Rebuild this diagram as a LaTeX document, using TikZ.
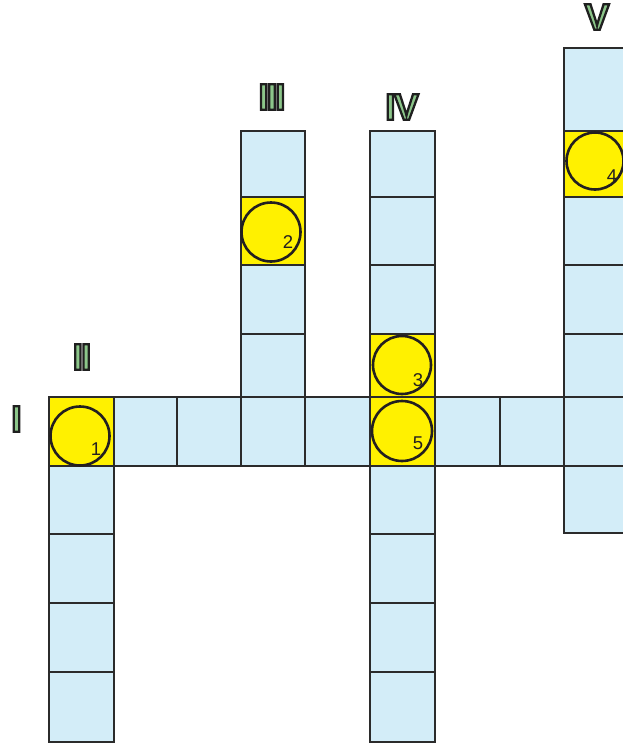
\documentclass[tikz,border=0pt]{standalone}
\usepackage{fontspec}
\setmainfont{Liberation Sans}
\definecolor{cellblue}{HTML}{D3EDF8}
\definecolor{cellyel}{HTML}{FFF100}
\definecolor{numgreen}{HTML}{8CC68A}
\definecolor{edge}{HTML}{2B2B2B}
\definecolor{ink}{HTML}{231F20}
\newcommand\outlined[1]{{\color{numgreen}\special{pdf:literal direct 2 Tr 2.3 w 0.12 0.12 0.12 RG}#1\special{pdf:literal direct 0 Tr}}}
\begin{document}
\begin{tikzpicture}[x=1pt,y=-1pt,
  bluecell/.style={fill=cellblue, draw=edge, line width=2.7pt},
  yelcell/.style={fill=cellyel, draw=edge, line width=2.7pt},
  ring/.style={draw=ink, line width=2.6pt},
  num/.style={font=\fontsize{18.5}{18.5}\selectfont, text=ink, inner sep=0pt},
  roman/.style={font=\fontsize{37}{37}\selectfont\bfseries, inner sep=0pt}]
\useasboundingbox (0,0) rectangle (623,744);
\clip (0,0) rectangle (623,744);
% row I
\foreach \a/\b in {114/177,177/241,241/305,305/370,435/500,500/564,564/640}
  \path[bluecell] (\a,397) rectangle (\b,466);
% column II
\foreach \a/\b in {466/534,534/603,603/672,672/742}
  \path[bluecell] (49,\a) rectangle (114,\b);
% column III
\foreach \a/\b in {131/197,265/334,334/397}
  \path[bluecell] (241,\a) rectangle (305,\b);
% column IV
\foreach \a/\b in {131/197,197/265,265/334,466/534,534/603,603/672,672/742}
  \path[bluecell] (370,\a) rectangle (435,\b);
% column V
\foreach \a/\b in {48/131,197/265,265/334,334/397,466/533}
  \path[bluecell] (564,\a) rectangle (640,\b);
% yellow cells
\path[yelcell] (49,397) rectangle (114,466);
\path[yelcell] (241,197) rectangle (305,265);
\path[yelcell] (370,334) rectangle (435,397);
\path[yelcell] (370,397) rectangle (435,466);
\path[yelcell] (564,131) rectangle (640,197);
% circles
\draw[ring] (80,436) circle[radius=29.5pt];
\draw[ring] (271,232) circle[radius=29.5pt];
\draw[ring] (402,365) circle[radius=29pt];
\draw[ring] (402,431) circle[radius=30pt];
\draw[ring] (595,161) circle[radius=28.5pt];
% numbers
\node[num] (n1) at (96,449) {1};
\node[num] (n2) at (288,242) {2};
\node[num] (n3) at (418,380) {3};
\node[num] (n4) at (612,176) {4};
\node[num] (n5) at (418,443) {5};
% roman numerals
\node[roman] (r1) at (16.5,419) {\outlined{I}};
\node[roman] (r2) at (82,357) {\outlined{I\kern-2pt I}};
\node[roman] (r3) at (272,97) {\outlined{I\kern-2pt I\kern-2pt I}};
\node[roman] (r4) at (402,107) {\outlined{I\kern-1.5pt V}};
\node[roman] (r5) at (597,17) {\outlined{V}};
\end{tikzpicture}
\end{document}
